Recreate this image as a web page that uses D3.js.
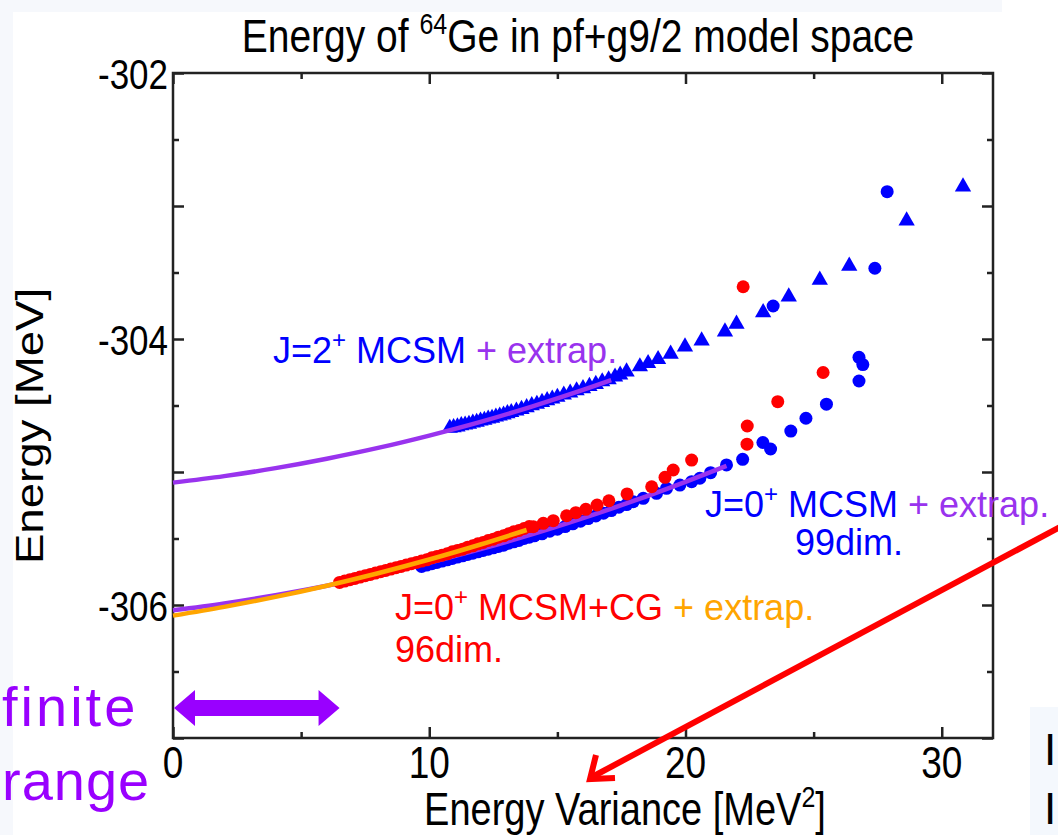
<!DOCTYPE html>
<html>
<head>
<meta charset="utf-8">
<script src="https://cdn.jsdelivr.net/npm/d3@7"></script>
<style>
  body { margin: 0; background: #f6f8fc; }
  svg { display: block; }
  text { font-family: "Liberation Sans", Arial, sans-serif; }
</style>
</head>
<body>
<div id="chart"></div>
<script>
// ---- data (x = energy variance MeV^2, E = energy MeV) ----
const xTicksMajor = [0, 10, 20, 30];
const xTicksMinor = [5, 15, 25];
const yTicksLabeled = [-302, -304, -306];
const yTicksMajor = [-302, -303, -304, -305, -306, -307];
const yTicksMinor = [-302.5, -303.5, -304.5, -305.5, -306.5];

// J=2+ MCSM (triangles)
const j2Points = [
  [10.8, -304.67], [10.95, -304.665], [11.1, -304.66], [11.25, -304.65], [11.4, -304.645],
  [11.55, -304.64], [11.7, -304.63], [11.85, -304.625], [12.0, -304.615], [12.15, -304.61],
  [12.3, -304.60], [12.45, -304.595], [12.6, -304.585], [12.75, -304.578], [12.9, -304.57],
  [13.05, -304.56], [13.2, -304.552], [13.4, -304.54], [13.6, -304.528], [13.8, -304.515],
  [14.0, -304.50], [14.2, -304.49], [14.4, -304.475], [14.6, -304.462], [14.8, -304.45],
  [15.0, -304.437], [15.25, -304.42], [15.5, -304.405], [15.75, -304.388], [16.0, -304.372],
  [16.25, -304.355], [16.5, -304.34], [16.75, -304.32], [17.0, -304.305], [17.25, -304.285],
  [17.45, -304.27], [17.70, -304.246], [18.22, -304.208], [18.54, -304.183], [18.93, -304.153],
  [19.42, -304.113], [19.98, -304.058], [20.63, -304.013], [21.54, -303.945], [21.99, -303.887],
  [23.03, -303.801], [24.03, -303.682], [25.24, -303.556], [26.39, -303.451], [28.63, -303.111],
  [30.83, -302.855]
];
// J=0+ MCSM (blue circles)
const j0Points = [
  [9.7, -305.71], [9.9, -305.70], [10.1, -305.69], [10.3, -305.68], [10.5, -305.67],
  [10.7, -305.66], [10.9, -305.65], [11.1, -305.64], [11.3, -305.63], [11.5, -305.62],
  [11.7, -305.61], [11.9, -305.60], [12.1, -305.59], [12.3, -305.58], [12.5, -305.57],
  [12.7, -305.56], [12.9, -305.55], [13.1, -305.535], [13.3, -305.525], [13.5, -305.515],
  [13.7, -305.50], [13.9, -305.49], [14.1, -305.48], [14.4, -305.465], [14.7, -305.445],
  [15.0, -305.43], [15.3, -305.41], [15.6, -305.39], [15.9, -305.37], [16.2, -305.35],
  [16.5, -305.33], [16.8, -305.31], [17.1, -305.29], [17.4, -305.265], [17.7, -305.245],
  [17.96, -305.223], [18.35, -305.198], [18.87, -305.16], [19.26, -305.123], [19.78, -305.098],
  [20.24, -305.073], [20.56, -305.047], [20.98, -305.005], [21.60, -304.947], [22.23, -304.905],
  [23.02, -304.778], [23.32, -304.827], [24.11, -304.692], [24.70, -304.596], [25.50, -304.49],
  [26.77, -304.316], [26.77, -304.138], [26.92, -304.192], [23.42, -303.752], [27.39, -303.468],
  [27.87, -302.892]
];
// J=0+ MCSM+CG (red circles)
const cgPoints = [
  [6.5, -305.83], [6.7, -305.82], [6.9, -305.81], [7.1, -305.80], [7.3, -305.79],
  [7.5, -305.78], [7.7, -305.77], [7.9, -305.76], [8.1, -305.75], [8.3, -305.74],
  [8.5, -305.73], [8.7, -305.72], [8.9, -305.71], [9.1, -305.70], [9.3, -305.69],
  [9.5, -305.68], [9.7, -305.67], [9.9, -305.66], [10.1, -305.645], [10.3, -305.635],
  [10.5, -305.625], [10.7, -305.615], [10.9, -305.60], [11.1, -305.59], [11.3, -305.58],
  [11.5, -305.565], [11.7, -305.555], [11.9, -305.54], [12.1, -305.53], [12.3, -305.515],
  [12.5, -305.505], [12.7, -305.49], [12.9, -305.48], [13.1, -305.465], [13.3, -305.45],
  [13.5, -305.44], [13.7, -305.425], [13.9, -305.41], [14.06, -305.411], [14.45, -305.386],
  [14.84, -305.366], [15.36, -305.329], [15.72, -305.306], [16.11, -305.281], [16.55, -305.248],
  [17.01, -305.216], [17.72, -305.165], [18.68, -305.111], [19.20, -305.04], [19.52, -304.985],
  [20.24, -304.91], [22.40, -304.791], [22.41, -304.654], [23.60, -304.471], [25.37, -304.252],
  [22.25, -303.607]
];
// extrapolation curves, read at a few x
const j2Extrap = [[0, -305.08], [2, -305.031], [4, -304.971], [6, -304.90], [8, -304.819],
  [10, -304.726], [12, -304.623], [14, -304.508], [16, -304.383], [17.1, -304.31]];
const j0Extrap = [[0, -306.04], [2, -305.988], [4, -305.926], [6, -305.855], [8, -305.773],
  [10, -305.682], [12, -305.58], [14, -305.469], [16, -305.347], [18, -305.216],
  [20, -305.074], [21.6, -304.954]];
const cgExtrap = [[0, -306.08], [2, -306.014], [4, -305.939], [6, -305.855], [8, -305.761],
  [10, -305.658], [12, -305.545], [13.8, -305.436]];
const rangeArrow = [0, 6.5];

const W = 1058, H = 835;
const BLUE = "#0000ff", RED = "#ff0000", PURPLE = "#9933ee", ORANGE = "#ffa500", VIOLET = "#9900ff";
const STRETCH = 1.2; // plot picture on the slide is taller than wide

const svg = d3.select("#chart").append("svg").attr("width", W).attr("height", H);

// slide background pieces
svg.append("rect").attr("width", W).attr("height", H).attr("fill", "#f6f8fc");
svg.append("rect").attr("x", 13).attr("y", 12).attr("width", W - 13).attr("height", H - 12).attr("fill", "#fff");
svg.append("rect").attr("x", 1002).attr("y", 0).attr("width", W - 1002).attr("height", 12).attr("fill", "#fff");
svg.append("rect").attr("x", 1030).attr("y", 707).attr("width", 28).attr("height", 128).attr("fill", "#f4f8fd");

const x = d3.scaleLinear().domain([0, 32]).range([173, 993]);
const y = d3.scaleLinear().domain([-307, -302]).range([738, 73]);

const fmt = d => String(d);

// ticks, pointing inward on all four sides
function ticks(axis, tx, ty, vals, len) {
  svg.append("g").attr("transform", `translate(${tx},${ty})`)
    .call(axis.tickValues(vals).tickSize(-len).tickFormat(""));
}
ticks(d3.axisBottom(x), 0, y(-307), xTicksMajor, 11);
ticks(d3.axisBottom(x), 0, y(-307), xTicksMinor, 6);
ticks(d3.axisTop(x), 0, y(-302), xTicksMajor, 11);
ticks(d3.axisTop(x), 0, y(-302), xTicksMinor, 6);
ticks(d3.axisLeft(y), x(0), 0, yTicksMajor, 11);
ticks(d3.axisLeft(y), x(0), 0, yTicksMinor, 6);
ticks(d3.axisRight(y), x(32), 0, yTicksMajor, 11);
ticks(d3.axisRight(y), x(32), 0, yTicksMinor, 6);
svg.selectAll(".domain").remove();
svg.selectAll(".tick line").attr("stroke", "#222").attr("stroke-width", 2.5);

svg.append("rect").attr("x", x(0)).attr("y", y(-302))
  .attr("width", x(32) - x(0)).attr("height", y(-307) - y(-302))
  .attr("fill", "none").attr("stroke", "#222").attr("stroke-width", 2.5);

// stretched text helper (baseline at bx, by)
function stext(bx, by, size, anchor, rot) {
  const tr = rot ? `translate(${bx},${by}) rotate(-90) scale(${STRETCH},1)` : `translate(${bx},${by}) scale(1,${STRETCH})`;
  return svg.append("text").attr("transform", tr).attr("font-size", size).attr("text-anchor", anchor);
}

// tick labels
svg.append("g").selectAll("text").data(xTicksMajor).join(
  enter => enter.append("text").attr("transform", d => `translate(${x(d)},778) scale(1,${STRETCH})`)
    .attr("text-anchor", "middle").attr("font-size", 37).text(fmt));
svg.append("g").selectAll("text").data(yTicksLabeled).join(
  enter => enter.append("text").attr("transform", d => `translate(${x(0) - 5},${y(d) + 16}) scale(1,${STRETCH})`)
    .attr("text-anchor", "end").attr("font-size", 35).text(fmt));

// title and axis labels
const title = stext(578, 52, 39, "middle");
title.append("tspan").text("Energy of ");
title.append("tspan").attr("font-size", 25).attr("dy", -15).text("64");
title.append("tspan").attr("dy", 15).text("Ge in pf+g9/2 model space");

const xl = stext(625, 825, 38, "middle");
xl.append("tspan").text("Energy Variance [MeV");
xl.append("tspan").attr("font-size", 25).attr("dy", -15).text("2");
xl.append("tspan").attr("dy", 15).text("]");

stext(43, 426, 38, "middle", true).text("Energy [MeV]");

// marks
const line = d3.line().x(d => x(d[0])).y(d => y(d[1])).curve(d3.curveMonotoneX);
const plot = svg.append("g");

plot.append("g").selectAll("path").data(j2Points).join("path")
  .attr("transform", d => `translate(${x(d[0])},${y(d[1])})`)
  .attr("d", d3.symbol(d3.symbolTriangle, 115)).attr("fill", BLUE);
plot.append("path").datum(j2Extrap).attr("d", line)
  .attr("fill", "none").attr("stroke", PURPLE).attr("stroke-width", 4.5);

plot.append("g").selectAll("circle").data(j0Points).join("circle")
  .attr("cx", d => x(d[0])).attr("cy", d => y(d[1])).attr("r", 6.5).attr("fill", BLUE);
plot.append("path").datum(j0Extrap).attr("d", line)
  .attr("fill", "none").attr("stroke", PURPLE).attr("stroke-width", 4.5);

plot.append("g").selectAll("circle").data(cgPoints).join("circle")
  .attr("cx", d => x(d[0])).attr("cy", d => y(d[1])).attr("r", 6.5).attr("fill", RED);
plot.append("path").datum(cgExtrap).attr("d", line)
  .attr("fill", "none").attr("stroke", ORANGE).attr("stroke-width", 4.5);

// annotations
function label(xp, yp, parts) {
  const t = svg.append("text").attr("x", xp).attr("y", yp).attr("font-size", 36);
  parts.forEach(p => {
    const s = t.append("tspan").attr("fill", p.c).text(p.t);
    if (p.sup) s.attr("font-size", 24).attr("dy", -15);
    if (p.down) s.attr("dy", 15);
  });
}
label(273, 363, [{ t: "J=2", c: BLUE }, { t: "+", c: BLUE, sup: true }, { t: " MCSM ", c: BLUE, down: true }, { t: "+ extrap.", c: PURPLE }]);
label(705, 517, [{ t: "J=0", c: BLUE }, { t: "+", c: BLUE, sup: true }, { t: " MCSM ", c: BLUE, down: true }, { t: "+ extrap.", c: PURPLE }]);
label(795, 555, [{ t: "99dim.", c: BLUE }]);
label(395, 620, [{ t: "J=0", c: RED }, { t: "+", c: RED, sup: true }, { t: " MCSM+CG ", c: RED, down: true }, { t: "+ extrap.", c: ORANGE }]);
label(395, 662, [{ t: "96dim.", c: RED }]);

// range double arrow
const ay = 708, x0 = x(rangeArrow[0]) + 1, x1 = x(rangeArrow[1]);
svg.append("path").attr("fill", VIOLET).attr("d",
  `M${x0},${ay} L${x0 + 21},${ay - 18} L${x0 + 21},${ay - 8} L${x1 - 21},${ay - 8} L${x1 - 21},${ay - 18}` +
  ` L${x1},${ay} L${x1 - 21},${ay + 18} L${x1 - 21},${ay + 8} L${x0 + 21},${ay + 8} L${x0 + 21},${ay + 18} Z`);

const hand = '"Comic Sans MS", "Comic Neue", "DejaVu Sans", sans-serif';
svg.append("text").attr("x", 2).attr("y", 726).attr("font-family", hand).attr("font-size", 56)
  .attr("letter-spacing", 3).attr("fill", VIOLET).text("finite");
svg.append("text").attr("x", 2).attr("y", 800).attr("font-family", hand).attr("font-size", 56)
  .attr("letter-spacing", 1).attr("fill", VIOLET).text("range");

// red pointer arrow
svg.append("path").attr("d", "M1060,527 L592,777").attr("stroke", RED).attr("stroke-width", 6).attr("fill", "none");
svg.append("path").attr("d", "M596,755 L590,779 L615,778").attr("stroke", RED).attr("stroke-width", 6)
  .attr("fill", "none").attr("stroke-linejoin", "miter");

// cut-off slide text at the right edge
const serif = '"Liberation Serif", "DejaVu Serif", serif';
svg.append("text").attr("x", 1044).attr("y", 765).attr("font-family", serif)
  .attr("font-size", 44).text("I");
svg.append("text").attr("x", 1044).attr("y", 824).attr("font-family", serif)
  .attr("font-size", 44).text("I");
</script>
</body>
</html>
